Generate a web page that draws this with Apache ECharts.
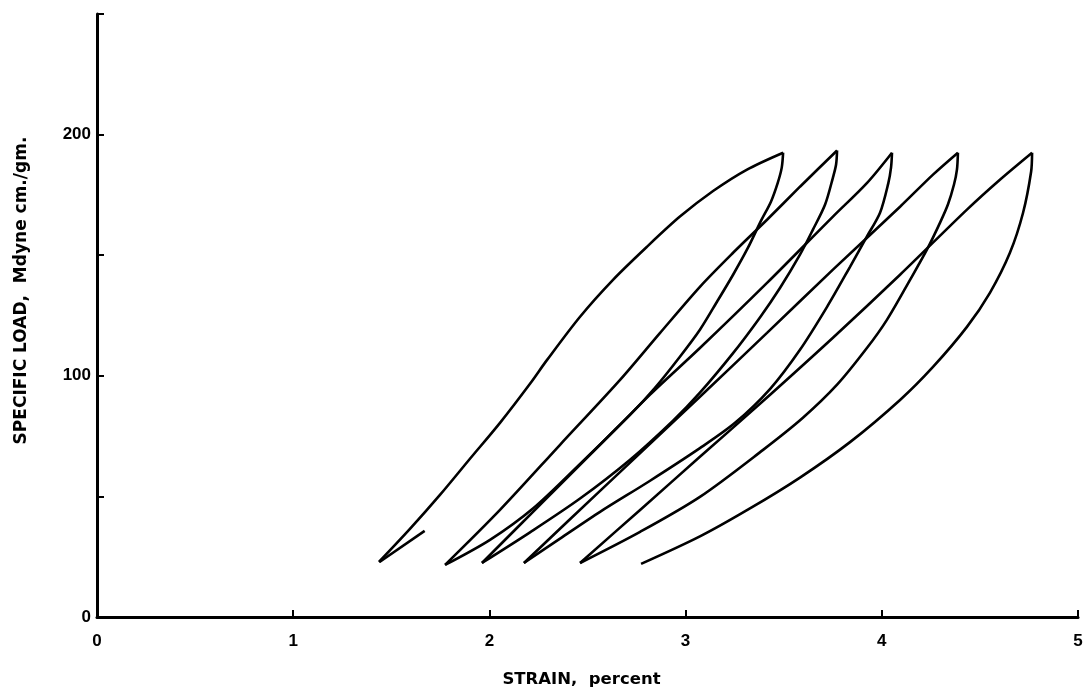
<!DOCTYPE html>
<html lang="en">
<head>
    <meta charset="UTF-8">
    <title>Specific load vs strain</title>
    <script src="https://cdn.jsdelivr.net/npm/echarts@6/dist/echarts.min.js"></script>
    <style>
        html, body { margin: 0; padding: 0; background: #fff; }
    </style>
</head>
<body>
    <div id="main" style="width:1083px;height:689px;"></div>
</body>
<script>
    // strain (percent), specific load (Mdyne cm./gm.)
    var xTicks = [0, 1, 2, 3, 4, 5];
    var yTickLabels = [0, 100, 200];

    var stub = [[1.67, 35.7], [1.44, 22.8]];

    var load1 = [[1.437, 22.8], [1.595, 36.5], [1.748, 50.6], [1.901, 65.6], [2.054, 80.5],
        [2.207, 96.7], [2.294, 106.6], [2.462, 124.5], [2.63, 139.8], [2.803, 153.5],
        [2.971, 166], [3.14, 176.6], [3.313, 185.5], [3.497, 192.5]];
    var unload1 = [[3.497, 192.5], [3.49, 186.3], [3.47, 180.1], [3.435, 172.2], [3.384, 164.2],
        [3.318, 153.1], [3.242, 141.9], [3.16, 130.7], [3.073, 119.1], [2.971, 107.9], [2.844, 95],
        [2.717, 83.8], [2.462, 63.5], [2.222, 45], [2.003, 32], [1.774, 21.6]];

    var load2 = [[1.774, 21.6], [2.054, 44.4], [2.36, 71.4], [2.666, 98.3], [2.87, 117.8],
        [3.073, 136.9], [3.242, 151], [3.415, 164.7], [3.583, 178.4], [3.772, 193.4]];
    var unload2 = [[3.772, 193.4], [3.767, 187.6], [3.751, 182.2], [3.711, 171], [3.649, 160.6],
        [3.583, 150.2], [3.481, 136.4], [3.379, 124.2], [3.242, 109.4], [3.073, 93], [2.936, 81.4],
        [2.717, 65.2], [2.462, 49.1], [2.207, 35.1], [1.962, 22.4]];

    var load3 = [[1.962, 22.4], [2.258, 46.5], [2.564, 71.4], [2.819, 92.2], [3.073, 111.5],
        [3.415, 138.5], [3.751, 166], [3.925, 180], [4.052, 192.5]];
    var unload3 = [[4.052, 192.5], [4.047, 186.3], [4.033, 179.8], [3.991, 167.6], [3.923, 157.6],
        [3.838, 145.2], [3.721, 128.6], [3.583, 110.8], [3.43, 94.5], [3.252, 80.5], [3.073, 70],
        [2.819, 56.5], [2.564, 43.6], [2.36, 32.5], [2.176, 22.4]];

    var load4 = [[2.176, 22.4], [2.564, 52.3], [3.073, 91.3], [3.415, 117.8], [3.751, 144],
        [4.093, 170.1], [4.261, 183.4], [4.388, 192.5]];
    var unload4 = [[4.388, 192.5], [4.383, 185.5], [4.368, 179.3], [4.337, 171], [4.297, 163.5],
        [4.23, 152.3], [4.144, 139.8], [4.026, 123.2], [3.925, 111.6], [3.772, 96.3], [3.598, 82.6],
        [3.395, 69.3], [3.073, 49.8], [2.768, 35.3], [2.462, 22.4]];

    var load5 = [[2.462, 22.4], [2.768, 44.4], [3.073, 66.4], [3.379, 88.4], [3.751, 115.8],
        [4.093, 141.9], [4.434, 168.9], [4.602, 181.3], [4.766, 192.5]];
    var unload5 = [[4.766, 192.5], [4.761, 184.6], [4.72, 167.6], [4.653, 151], [4.551, 134.4],
        [4.434, 120.3], [4.261, 103.7], [4.093, 90], [3.838, 72.5], [3.583, 57.8], [3.328, 45],
        [3.073, 33.4], [2.773, 22]];

    var segments = [stub, load1, unload1, load2, unload2, load3, unload3, load4, unload4, load5, unload5];

    var myChart = echarts.init(document.getElementById('main'));

    var tickFont = {
        color: '#000',
        fontFamily: 'Liberation Sans',
        fontWeight: 'bold',
        fontSize: 17
    };

    var series = [];
    for (var i = 0; i < segments.length; i++) {
        series.push({
            type: 'line',
            data: segments[i],
            smooth: 0.3,
            showSymbol: false,
            symbol: 'none',
            lineStyle: { color: '#000', width: 2.6 },
            z: 3
        });
    }

    var option = {
        animation: false,
        backgroundColor: '#fff',
        grid: { left: 97, right: 5, top: 14, bottom: 72, containLabel: false, outerBoundsMode: 'none' },
        xAxis: {
            type: 'value',
            min: 0,
            max: 5,
            interval: 1,
            name: 'STRAIN,  percent',
            nameLocation: 'middle',
            nameGap: 54,
            nameTextStyle: {
                color: '#000',
                fontFamily: 'DejaVu Sans',
                fontWeight: 'bold',
                fontSize: 16.5,
                padding: [0, 12, 0, 0]
            },
            axisLine: { lineStyle: { color: '#000', width: 3 } },
            axisTick: { inside: true, length: 7, lineStyle: { color: '#000', width: 2 } },
            axisLabel: Object.assign({
                margin: 16,
                formatter: function (v) { return xTicks.indexOf(v) >= 0 ? String(v) : ''; }
            }, tickFont),
            splitLine: { show: false }
        },
        yAxis: {
            type: 'value',
            min: 0,
            max: 250,
            interval: 50,
            name: 'SPECIFIC LOAD,  Mdyne cm./gm.',
            nameLocation: 'middle',
            nameGap: 67,
            nameRotate: 90,
            nameTextStyle: {
                color: '#000',
                fontFamily: 'DejaVu Sans',
                fontWeight: 'bold',
                fontSize: 17,
                padding: [0, 0, 0, 50]
            },
            axisLine: { lineStyle: { color: '#000', width: 3 } },
            axisTick: { inside: true, length: 7, lineStyle: { color: '#000', width: 2 } },
            axisLabel: Object.assign({
                margin: 6,
                formatter: function (v) { return yTickLabels.indexOf(v) >= 0 ? String(v) : ''; }
            }, tickFont),
            splitLine: { show: false }
        },
        series: series
    };

    myChart.setOption(option);
</script>
</html>
